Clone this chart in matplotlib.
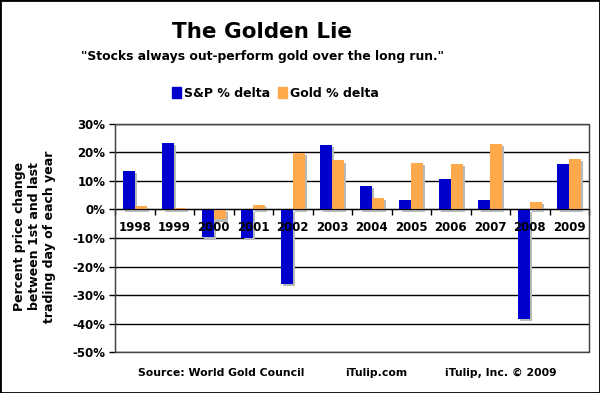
import matplotlib.pyplot as plt
import matplotlib.patheffects as pe
import numpy as np
from matplotlib.patches import Rectangle, Patch

years = ['1998', '1999', '2000', '2001', '2002', '2003', '2004', '2005',
         '2006', '2007', '2008', '2009']
sp_delta = [13.4, 23.2, -9.8, -9.9, -26.0, 22.6, 8.2, 3.4, 10.6, 3.4, -38.4, 16.1]
gold_delta = [1.1, 0.7, -3.5, 1.6, 19.9, 17.2, 4.2, 16.2, 16.0, 23.1, 2.5, 17.6]
y_ticks = [30, 20, 10, 0, -10, -20, -30, -40, -50]

plt.rcParams['font.family'] = 'DejaVu Sans'
plt.rcParams['font.weight'] = 'bold'

sp_color = '#0000cc'
gold_color = '#ffa94d'

fig = plt.figure(figsize=(6, 3.93), dpi=100)
ax = fig.add_axes([0.1917, 0.1043, 0.79, 0.5802])

x = np.arange(len(years))
w = 0.3
shadow = [pe.SimplePatchShadow(offset=(1.5, -1.5), shadow_rgbFace='#b8b8b8', alpha=1), pe.Normal()]
ax.bar(x - w / 2, sp_delta, w, color=sp_color, path_effects=shadow, zorder=1)
ax.bar(x + w / 2, gold_delta, w, color=gold_color, path_effects=shadow, zorder=1)

ax.set_xlim(-0.5, len(years) - 0.5)
ax.set_ylim(-50, 30)
ax.set_yticks(y_ticks)
ax.set_yticklabels(['{}%'.format(v) for v in y_ticks], fontsize=8.5, fontweight='bold')
ax.yaxis.grid(True, color='black', linewidth=1)
ax.set_axisbelow(True)
ax.tick_params(axis='y', length=4, width=1, pad=3)

# x axis sits on the zero line, ticks at category boundaries
ax.spines['bottom'].set_position(('data', 0))
ax.set_xticks(np.arange(len(years) + 1) - 0.5)
ax.set_xticklabels([])
ax.set_xticks(x, minor=True)
ax.set_xticklabels(years, minor=True, fontsize=8.5, fontweight='bold')
ax.tick_params(axis='x', which='major', length=4, width=1, direction='out')
ax.tick_params(axis='x', which='minor', length=0, pad=8)
ax.xaxis.set_zorder(3)

for s in ['top', 'right']:
    ax.spines[s].set_color('#444444')
ax.add_patch(Rectangle((0, 0), 1, 1, transform=ax.transAxes, fill=False,
                       edgecolor='#444444', linewidth=1, clip_on=False, zorder=4))

ax.set_ylabel('Percent price change\nbetween 1st and last\ntrading day of each year',
              fontsize=9, fontweight='bold', va='center', linespacing=1.2)
ax.yaxis.set_label_coords(-0.169, 0.507)

fig.text(0.437, 0.919, 'The Golden Lie', ha='center', va='center', fontsize=15.5, fontweight='bold')
fig.text(0.437, 0.855, '"Stocks always out-perform gold over the long run."',
         ha='center', va='center', fontsize=8.9, fontweight='bold')
handles = [Patch(color=sp_color, label='S&P % delta'), Patch(color=gold_color, label='Gold % delta')]
fig.legend(handles=handles, loc='center', bbox_to_anchor=(0.459, 0.763), ncol=2, frameon=False,
           handlelength=0.75, handleheight=0.9, handletextpad=0.25, columnspacing=0.6,
           prop={'size': 9, 'weight': 'bold'})

fig.text(0.369, 0.051, 'Source: World Gold Council', ha='center', va='center', fontsize=7.8, fontweight='bold')
fig.text(0.627, 0.051, 'iTulip.com', ha='center', va='center', fontsize=7.8, fontweight='bold')
fig.text(0.835, 0.051, 'iTulip, Inc. \u00a9 2009', ha='center', va='center', fontsize=7.8, fontweight='bold')

fig.patches.append(Rectangle((0, 0), 1, 1, transform=fig.transFigure, fill=False,
                             edgecolor='black', linewidth=2))

fig.savefig('out.png', dpi=100)
